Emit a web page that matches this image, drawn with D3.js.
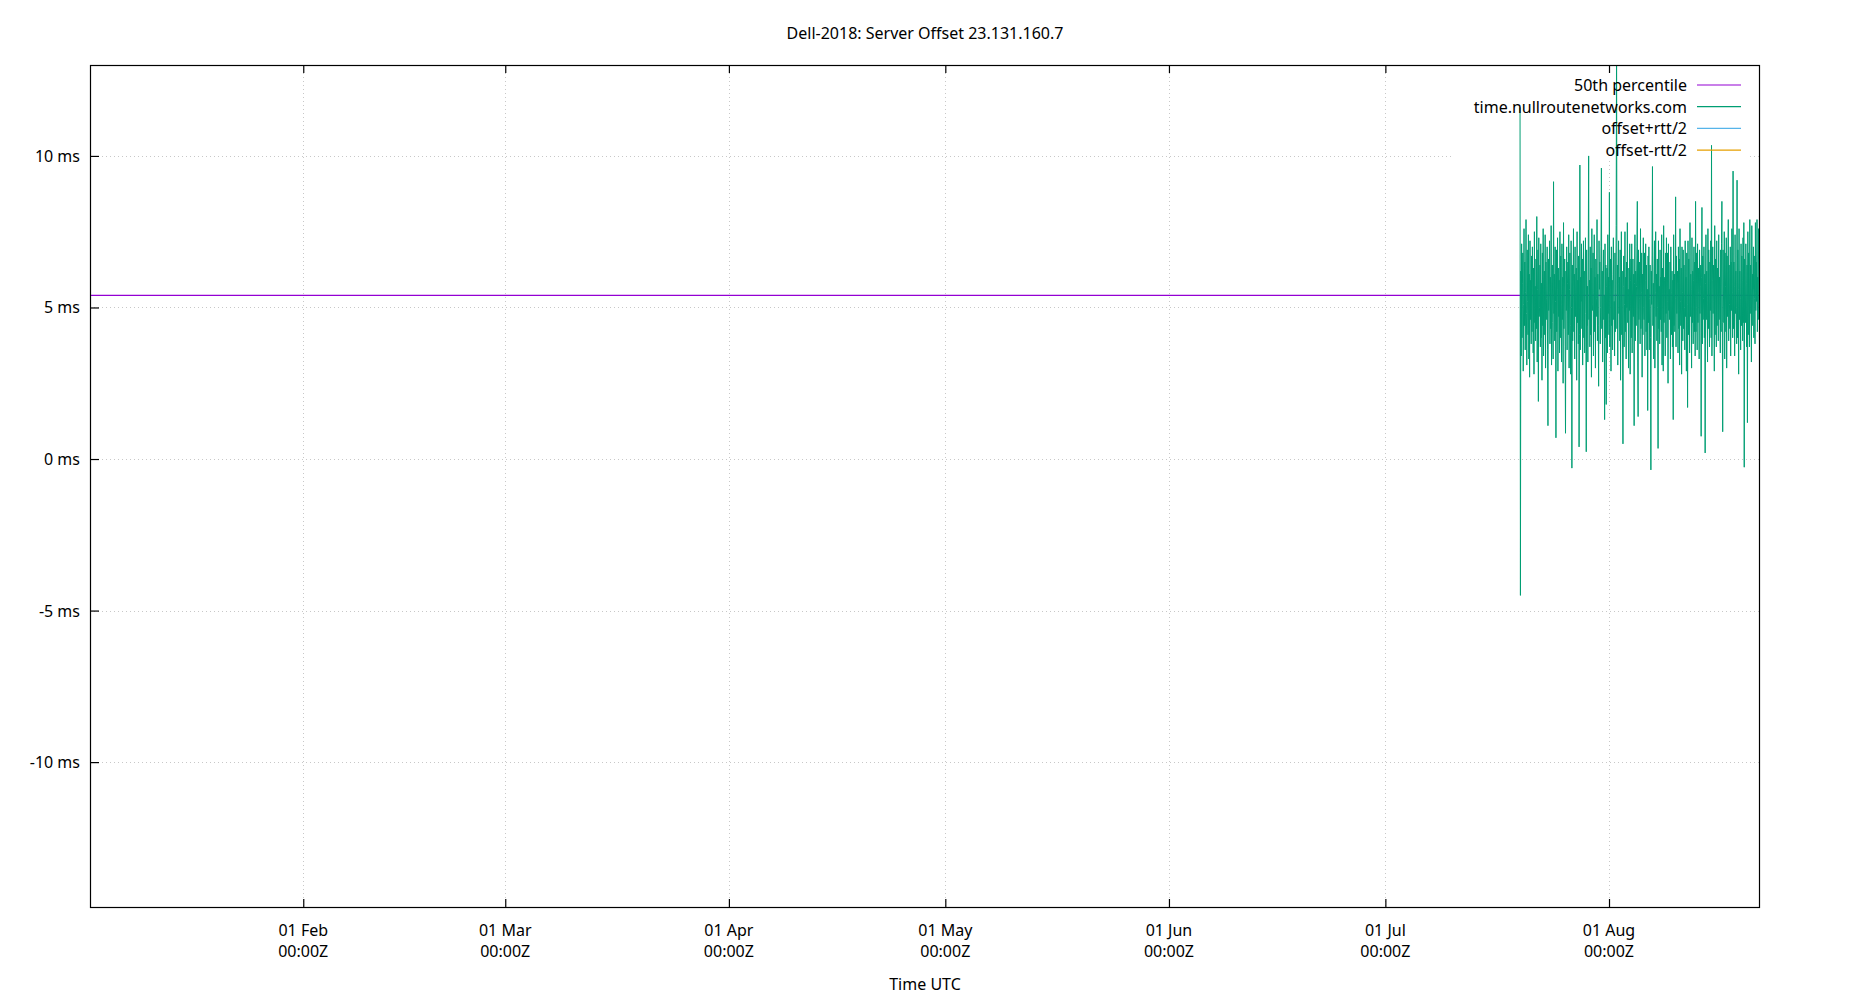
<!DOCTYPE html>
<html>
<head>
<meta charset="utf-8">
<script src="https://cdn.jsdelivr.net/npm/d3@7"></script>
<style>
  body { margin: 0; background: #fff; }
  text { font-family: "Noto Sans", "Open Sans", sans-serif; fill: #000; }
</style>
</head>
<body>
<svg id="chart" width="1850" height="1000"></svg>
<script>
// chart texts
const title = "Dell-2018: Server Offset 23.131.160.7";
const xLabel = "Time UTC";
const seriesNames = ["50th percentile", "time.nullroutenetworks.com", "offset+rtt/2", "offset-rtt/2"];
const seriesColors = ["#9400d3", "#009e73", "#56b4e9", "#e69f00"];

// axis extents
const xExtent = ["2019-01-02T10:30:00Z", "2019-08-21T19:00:00Z"];
const yExtent = [-14.78, 13.0];
const yTicks = [-10, -5, 0, 5, 10];

// 50th percentile of the offset (ms)
const median = 5.40;

// samples of time.nullroutenetworks.com: first and last sample time, offsets in ms
const sampleSpan = ["2019-07-19T16:00:00Z", "2019-08-21T19:00:00Z"];
const offsets = [
  11.6, -4.5, 6.2, 3.4, 7.1, 4.0, 5.8, 6.8, 2.9, 5.1, 7.6, 4.4, 6.5, 3.6, 5.5, 7.9, 4.8, 3.1, 6.9, 5.2,
  4.1, 7.4, 3.3, 6.1, 2.7, 7.2, 4.6, 5.9, 3.8, 6.7, 4.2, 7.0, 5.4, 3.5, 6.3, 2.8, 7.5, 4.5, 5.7, 3.9,
  6.6, 4.3, 8.0, 3.2, 5.6, 6.9, 1.9, 7.3, 4.7, 5.0, 6.4, 3.7, 7.1, 4.0, 5.8, 2.6, 6.8, 4.4, 7.6, 3.4,
  5.9, 6.2, 4.1, 7.4, 3.0, 6.5, 5.3, 4.6, 7.0, 3.6, 1.1, 6.6, 4.9, 5.5, 7.2, 3.8, 6.0, 4.3, 7.7, 3.1,
  5.7, 6.4, 4.5, 3.3, 9.15, 4.8, 6.1, 3.9, 7.0, 5.2, 0.7, 6.9, 4.2, 5.6, 7.3, 2.9, 6.3, 4.7, 5.9, 3.5,
  7.5, 4.0, 6.7, 5.1, 3.2, 7.1, 4.6, 6.0, 2.5, 7.8, 4.3, 5.4, 6.6, 3.7, 0.85, 6.2, 4.9, 7.0, 3.6, 5.8,
  6.5, 4.1, 7.4, 3.0, 5.6, 6.8, 4.4, 2.8, 7.2, 5.0, -0.3, 6.4, 3.9, 5.7, 7.6, 4.2, 6.1, 3.3, 7.0, 4.7,
  5.5, 6.3, 2.6, 7.5, 4.5, 5.9, 3.8, 6.7, 0.4, 4.1, 9.7, 3.6, 6.0, 5.2, 7.1, 4.3, 6.6, 3.1, 5.8, 7.2,
  4.0, 6.2, 3.5, 5.4, 7.3, 4.8, 0.24, 6.9, 4.4, 5.7, 3.2, 6.5, 10.0, 4.6, 5.9, 3.7, 7.0, 4.1, 6.3, 2.7,
  7.6, 5.1, 4.9, 6.8, 3.4, 5.5, 7.4, 4.2, 6.0, 3.0, 6.6, 4.7, 5.3, 7.9, 3.9, 6.1, 4.4, 2.4, 7.2, 5.6,
  6.5, 3.8, 5.0, 7.0, 9.6, 4.3, 6.2, 3.2, 5.8, 6.9, 4.6, 5.4, 1.3, 7.1, 4.0, 6.4, 1.8, 5.7, 6.3, 3.5,
  7.4, 4.8, 6.0, 4.1, 8.8, 3.7, 5.6, 6.6, 2.9, 7.0, 4.4, 5.9, 3.6, 6.1, 7.3, 4.6, 5.2, 3.4, 6.8, 4.2,
  5.5, 7.7, 14.0, 4.3, 6.4, 3.1, 5.8, 7.2, 4.8, 6.0, 3.9, 6.9, 2.6, 5.3, 7.5, 4.1, 6.2, 3.6, 0.5, 5.7,
  6.7, 3.7, 5.1, 7.5, 4.2, 6.0, 3.3, 6.5, 5.0, 7.8, 4.5, 5.6, 3.0, 6.3, 4.9, 7.1, 2.8, 5.9, 6.6, 4.0,
  7.1, 3.5, 5.4, 6.6, 4.7, 6.1, 1.1, 5.8, 7.4, 3.9, 6.2, 4.4, 5.7, 7.0, 8.5, 3.2, 1.4, 6.9, 4.6, 5.3,
  6.5, 3.8, 7.6, 4.3, 5.5, 6.8, 2.7, 6.1, 4.1, 7.3, 5.0, 4.6, 6.8, 3.4, 5.9, 7.1, 4.2, 6.4, 3.6, 5.6,
  1.6, 6.7, 4.5, 7.0, 3.6, 5.3, 6.4, 4.0, -0.36, 6.2, 5.1, 6.7, 9.65, 4.4, 5.8, 3.3, 6.2, 7.2, 3.0, 5.5,
  7.5, 4.7, 6.1, 3.9, 6.6, 5.0, 0.35, 7.2, 4.3, 5.7, 3.8, 6.9, 4.6, 6.0, 4.2, 7.4, 3.1, 6.3, 5.4, 2.9,
  7.7, 4.5, 5.9, 6.0, 3.4, 6.8, 4.8, 7.3, 4.0, 5.2, 6.8, 2.5, 7.1, 4.9, 5.6, 4.6, 6.5, 3.3, 7.0, 5.5,
  4.1, 6.2, 3.7, 5.9, 1.3, 7.4, 4.4, 6.1, 4.2, 5.3, 8.65, 3.7, 6.7, 4.8, 5.8, 6.2, 3.5, 7.0, 4.3, 6.6,
  3.1, 7.6, 5.2, 4.4, 6.3, 2.8, 7.0, 5.5, 3.9, 6.9, 4.3, 6.4, 5.0, 3.6, 7.2, 4.7, 6.0, 2.9, 6.8, 5.1,
  1.7, 7.2, 4.1, 6.6, 5.4, 3.5, 7.8, 4.7, 6.1, 5.6, 3.0, 7.3, 4.5, 6.2, 3.8, 5.9, 7.0, 4.2, 6.5, 3.4,
  8.5, 4.2, 6.8, 5.0, 3.6, 7.1, 4.5, 6.3, 5.5, 3.3, 6.9, 4.8, 5.7, 6.4, 0.75, 6.0, 8.3, 3.8, 6.7, 4.6,
  5.3, 7.0, 4.0, 6.1, 0.2, 5.8, 7.4, 4.6, 6.2, 5.1, 3.2, 7.6, 4.3, 6.9, 5.6, 3.7, 6.5, 4.9, 7.2, 4.0,
  10.35, 3.4, 5.9, 7.0, 4.8, 6.4, 5.2, 2.9, 7.7, 4.1, 6.6, 5.5, 3.7, 7.2, 4.4, 6.3, 5.8, 3.9, 7.4, 4.6,
  6.0, 5.3, 3.5, 6.9, 4.2, 7.1, 8.5, 4.5, 0.9, 6.9, 5.4, 4.5, 7.5, 3.3, 6.8, 5.7, 4.2, 7.3, 3.0, 6.7,
  4.7, 5.9, 7.9, 3.9, 6.4, 5.1, 4.3, 7.0, 3.4, 6.5, 4.9, 7.6, 5.5, 4.0, 9.5, 4.3, 6.5, 5.7, 3.4, 7.4,
  4.8, 6.2, 5.0, 3.8, 9.2, 4.0, 6.9, 5.6, 2.8, 7.6, 4.6, 6.2, 5.3, 3.6, 7.1, 4.4, 6.7, 5.9, 3.9, 7.3,
  4.5, 7.8, -0.27, 6.6, 5.0, 4.5, 7.1, 5.8, 3.7, 6.4, 1.2, 7.5, 4.1, 6.8, 5.4, 3.7, 7.9, 4.8, 6.4, 5.2,
  3.2, 7.7, 4.4, 6.1, 5.6, 7.0, 4.0, 6.7, 5.3, 3.8, 7.8, 4.9, 6.5, 5.2, 7.9, 4.2, 6.0, 4.6, 7.6, 6.6
];

const svgWidth = 1850, svgHeight = 1000;
const margin = { top: 65, right: 91, bottom: 93, left: 90 };
const width = svgWidth - margin.left - margin.right;
const height = svgHeight - margin.top - margin.bottom;
const fontSize = 16;

const svg = d3.select("#chart");
const g = svg.append("g").attr("transform", `translate(${margin.left},${margin.top})`);

const x = d3.scaleUtc().domain(xExtent.map(d => new Date(d))).range([0, width]);
const y = d3.scaleLinear().domain(yExtent).range([height, 0]);

// sample times spread evenly over the sampled span
const t0 = new Date(sampleSpan[0]).getTime(), t1 = new Date(sampleSpan[1]).getTime();
const samples = offsets.map((v, i) => ({ t: new Date(t0 + (t1 - t0) * i / (offsets.length - 1)), v }));

const monthTicks = x.ticks(d3.utcMonth.every(1));

// grid
const grid = g.append("g").attr("stroke", "#c8c8c8").attr("stroke-width", 1).attr("stroke-dasharray", "1,3");
grid.selectAll(".gx").data(monthTicks).join("line")
  .attr("x1", d => Math.round(x(d)) + 0.5).attr("x2", d => Math.round(x(d)) + 0.5)
  .attr("y1", 0).attr("y2", height);
grid.selectAll(".gy").data(yTicks).join("line")
  .attr("x1", 0).attr("x2", width)
  .attr("y1", d => Math.round(y(d)) + 0.5).attr("y2", d => Math.round(y(d)) + 0.5);

// key background (opaque)
g.append("rect")
  .attr("x", width - 308).attr("y", 1)
  .attr("width", 299).attr("height", 95)
  .attr("fill", "#fff");

// plots
svg.append("defs").append("clipPath").attr("id", "clip")
  .append("rect").attr("width", width).attr("height", height);
const plots = g.append("g").attr("clip-path", "url(#clip)");

plots.append("line")
  .attr("x1", 0).attr("x2", width)
  .attr("y1", y(median)).attr("y2", y(median))
  .attr("stroke", seriesColors[0]).attr("stroke-width", 1.2);

plots.append("path")
  .datum(samples)
  .attr("fill", "none")
  .attr("stroke", seriesColors[1])
  .attr("stroke-width", 1)
  .attr("d", d3.line().x(d => x(d.t)).y(d => y(d.v)));

// axes: inward ticks, x mirrored on top
const xAxis = g.append("g").attr("transform", `translate(0,${height})`)
  .call(d3.axisBottom(x).tickValues(monthTicks).tickSize(-8).tickFormat(""));
const xTop = g.append("g")
  .call(d3.axisTop(x).tickValues(monthTicks).tickSize(-8).tickFormat(""));
const yAxis = g.append("g")
  .call(d3.axisLeft(y).tickValues(yTicks).tickSize(-9).tickFormat(""));
[xAxis, xTop, yAxis].forEach(a => {
  a.select(".domain").remove();
  a.selectAll("line").attr("stroke", "#000").attr("stroke-width", 1.2);
});

// frame
g.append("rect")
  .attr("x", 0.5).attr("y", 0.5).attr("width", width).attr("height", height)
  .attr("fill", "none").attr("stroke", "#000").attr("stroke-width", 1.2);

// tick labels
const fmtDay = d3.utcFormat("%d %b"), fmtTime = d3.utcFormat("%H:%MZ");
const xl = g.append("g").attr("font-size", fontSize).attr("text-anchor", "middle");
xl.selectAll("text.d").data(monthTicks).join("text")
  .attr("x", d => x(d)).attr("y", height + 29).text(fmtDay);
xl.selectAll("text.t").data(monthTicks).join("text")
  .attr("x", d => x(d)).attr("y", height + 50).text(fmtTime);

g.append("g").attr("font-size", fontSize).attr("text-anchor", "end")
  .selectAll("text").data(yTicks).join("text")
  .attr("x", -10).attr("y", d => y(d) + 6)
  .text(d => `${d} ms`);

// titles
svg.append("text").attr("x", svgWidth / 2).attr("y", 39)
  .attr("text-anchor", "middle").attr("font-size", fontSize).text(title);
svg.append("text").attr("x", svgWidth / 2).attr("y", 990)
  .attr("text-anchor", "middle").attr("font-size", fontSize).text(xLabel);

// key
const key = g.append("g");
seriesNames.forEach((name, i) => {
  const ky = 20 + i * 21.7;
  key.append("text").attr("x", width - 72).attr("y", ky + 6)
    .attr("text-anchor", "end").attr("font-size", fontSize).text(name);
  key.append("line")
    .attr("x1", width - 62).attr("x2", width - 18)
    .attr("y1", ky).attr("y2", ky)
    .attr("stroke", seriesColors[i]).attr("stroke-width", 1.2);
});
</script>
</body>
</html>
